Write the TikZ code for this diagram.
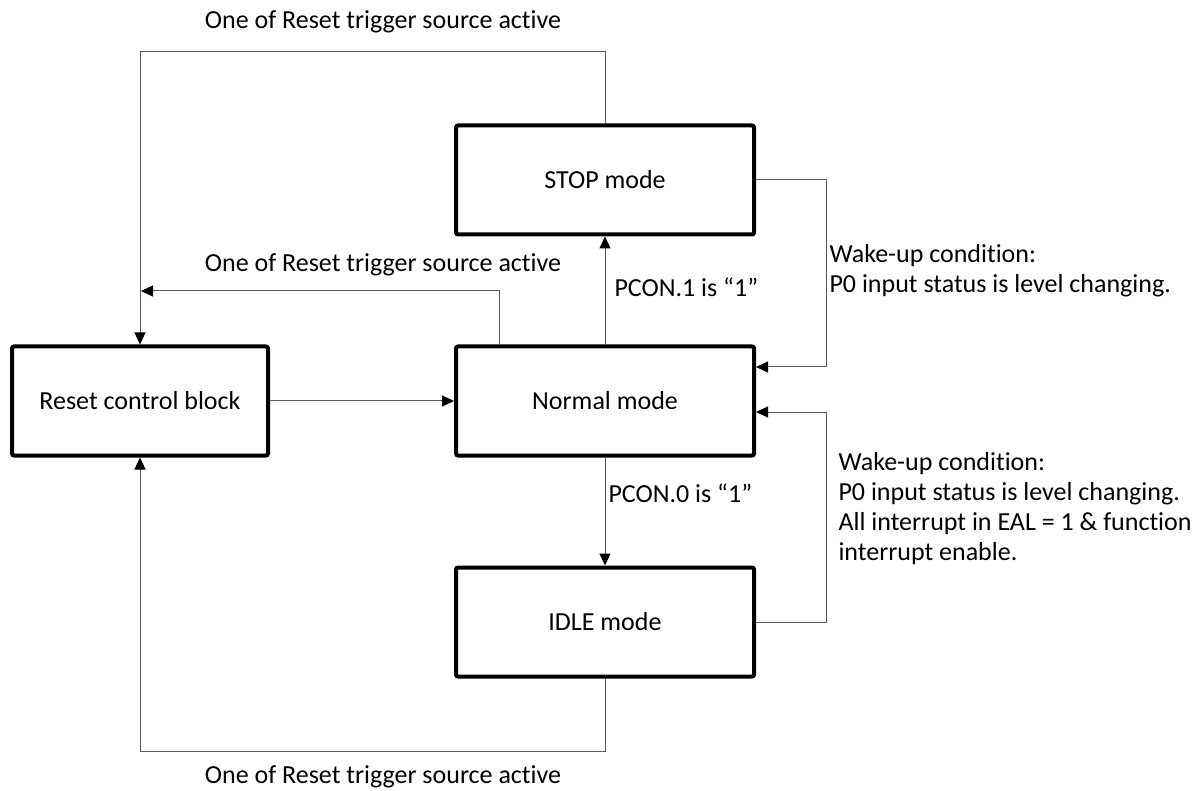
\documentclass[tikz,border=0pt]{standalone}
\usepackage{fontspec}
\setmainfont{Carlito}[Ligatures=NoCommon]
\usepackage{tikz}
\usetikzlibrary{arrows.meta, calc}
\definecolor{linkgray}{HTML}{595959}

\begin{document}
\begin{tikzpicture}[
    x=1pt, y=-1pt,
    font=\fontsize{26}{30}\selectfont,
    modebox/.style={rectangle, rounded corners=2pt, draw=black, line width=4pt,
                    minimum width=298pt, minimum height=109pt, align=center},
    link/.style={draw=linkgray, line width=1pt},
    tolink/.style={link, -{Triangle[length=12pt, width=11pt, color=black]}},
]
\useasboundingbox (0,0) rectangle (1202,791);

% Blocks
\node[modebox, minimum width=256pt] (reset) at (140,401) {Reset control block};
\node[modebox] (normal) at (605,401) {Normal mode};
\node[modebox] (stop) at (605,180) {STOP mode};
\node[modebox] (idle) at (605,622) {IDLE mode};

% Rails
\coordinate (toprail) at (0,52);
\coordinate (midrail) at (141,291);
\coordinate (botrail) at (0,751);
\coordinate (rightrail) at (826,0);

% Reset paths
\draw[tolink] (stop.north) |- (toprail -| reset.north) -- (reset.north);
\draw[tolink] ([xshift=-106pt]normal.north) |- (midrail);
\draw[tolink] (idle.south) |- (botrail -| reset.south) -- (reset.south);
\draw[tolink] (reset.east) -- (normal.west);

% Mode changes
\draw[tolink] (normal.north) -- (stop.south);
\draw[tolink] (normal.south) -- (idle.north);

% Wake-up paths
\draw[tolink] (stop.east) -- (stop.east -| rightrail) |- ([yshift=34pt]normal.east);
\draw[tolink] (idle.east) -- (idle.east -| rightrail) |- ([yshift=-11pt]normal.east);

% Labels
\node (toplabel) at (383,22) {One of Reset trigger source active};
\node (midlabel) at (383,265) {One of Reset trigger source active};
\node (botlabel) at (383,777) {One of Reset trigger source active};
\node[anchor=west] (pcon1) at (611,287) {PCON.1 is “1”};
\node[anchor=west] (pcon0) at (605,493) {PCON.0 is “1”};
\node[anchor=west, align=left] (wakestop) at (826,271) {Wake-up condition:\\P0 input status is level changing.};
\node[anchor=west, align=left] (wakeidle) at (835,509) {Wake-up condition:\\P0 input status is level changing.\\All interrupt in EAL = 1 \& function\\interrupt enable.};

\end{tikzpicture}
\end{document}
